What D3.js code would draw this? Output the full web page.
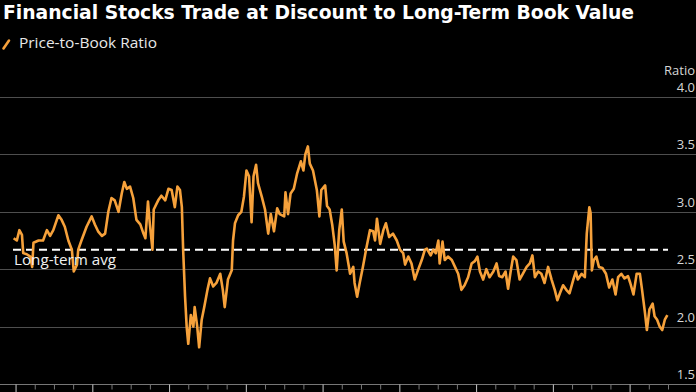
<!DOCTYPE html>
<html>
<head>
<meta charset="utf-8">
<script src="https://cdn.jsdelivr.net/npm/d3@7"></script>
<style>
  html, body { margin: 0; padding: 0; background: #000; }
  svg { display: block; }
  text { font-family: "Open Sans", "Noto Sans", sans-serif; }
</style>
</head>
<body>
<svg id="chart" width="696" height="392"></svg>
<script>
// ---------- data ----------
const titleText = "Financial Stocks Trade at Discount to Long-Term Book Value";
const seriesName = "Price-to-Book Ratio";
const unitLabel = "Ratio";
const avgLabel = "Long-term avg";
const longTermAvg = 2.67;
const yTicks = [1.5, 2.0, 2.5, 3.0, 3.5, 4.0];
const yTickLabels = ["1.5", "2.0", "2.5", "3.0", "3.5", "4.0"];
// months since start of first labelled year
const months = [
  -0.3, 0.2, 0.6, 1.0, 1.2, 1.75, 2.3, 2.6, 2.8, 3.6, 4.3, 4.9, 5.4, 5.9, 6.7, 7.2, 7.7, 8.25, 8.8, 9.1,
  9.6, 9.8, 10.3, 11.1, 11.9, 12.4, 12.9, 13.5, 14.0, 14.5, 15.0, 15.5, 16.1, 16.6, 17.0, 17.4, 17.9, 18.4, 18.9, 19.5,
  20.0, 20.3, 20.7, 21.0, 21.4, 21.6, 22.3, 22.8, 23.4, 23.9, 24.4, 24.9, 25.3, 25.7, 26.0, 26.2, 26.5, 26.75, 27.0, 27.4,
  27.8, 28.0, 28.4, 28.7, 29.1, 29.5, 30.0, 30.4, 30.9, 31.4, 32.0, 32.4, 32.7, 33.2, 33.8, 34.0, 34.3, 34.8, 35.3, 35.7,
  36.1, 36.5, 36.9, 37.2, 37.6, 37.9, 38.5, 39.0, 39.5, 39.9, 40.4, 40.9, 41.3, 42.0, 42.2, 42.6, 43.0, 43.5, 44.0, 44.6,
  45.0, 45.3, 45.7, 46.0, 46.5, 47.1, 47.5, 47.8, 48.4, 48.7, 49.1, 49.5, 49.9, 50.2, 50.6, 51.0, 51.3, 51.75, 52.3, 52.8,
  53.0, 53.4, 53.8, 54.3, 54.9, 55.4, 55.9, 56.2, 56.5, 57.0, 57.5, 57.9, 58.4, 59.0, 59.6, 60.1, 60.6, 60.9, 61.4, 61.9,
  62.4, 62.9, 63.5, 64.0, 64.3, 64.9, 65.3, 65.7, 66.1, 66.3, 66.75, 67.1, 67.6, 68.2, 68.7, 69.2, 69.7, 70.2, 70.75, 71.3,
  71.8, 72.2, 72.6, 73.1, 73.6, 74.1, 74.7, 75.2, 75.6, 76.1, 76.6, 77.0, 77.4, 77.8, 78.3, 78.8, 79.3, 79.9, 80.4, 80.8,
  81.2, 81.7, 82.2, 82.7, 83.25, 83.8, 84.3, 84.7, 85.1, 85.6, 86.1, 86.6, 87.2, 87.6, 87.9, 88.5, 89.0, 89.3, 89.7, 89.9,
  90.1, 90.4, 90.8, 91.2, 91.75, 92.3, 92.8, 93.3, 93.8, 94.2, 94.7, 95.2, 95.75, 96.1, 96.6, 97.1, 97.6, 97.9, 98.4, 98.7,
  99.1, 99.6, 99.9, 100.3, 100.7, 101.1, 101.5, 101.9
];
const ratio = [
  2.77, 2.75, 2.84, 2.80, 2.64, 2.63, 2.61, 2.52, 2.73, 2.75, 2.75, 2.84, 2.79, 2.84, 2.97, 2.93, 2.87, 2.75, 2.67, 2.48,
  2.54, 2.67, 2.75, 2.87, 2.96, 2.89, 2.83, 2.79, 2.81, 3.00, 3.12, 3.10, 3.00, 3.16, 3.26, 3.20, 3.22, 3.12, 2.93, 2.89,
  2.81, 2.77, 3.09, 2.89, 2.67, 3.02, 3.10, 3.14, 3.10, 3.20, 3.19, 3.04, 3.22, 3.19, 3.04, 2.67, 2.26, 2.00, 1.85, 2.10,
  2.00, 2.17, 2.00, 1.82, 2.06, 2.17, 2.32, 2.42, 2.35, 2.38, 2.46, 2.32, 2.17, 2.41, 2.49, 2.75, 2.90, 2.97, 3.00, 3.13,
  3.36, 3.31, 2.91, 3.31, 3.41, 3.25, 3.13, 3.02, 2.81, 2.98, 2.83, 3.03, 2.98, 2.96, 3.17, 2.98, 3.16, 3.20, 3.33, 3.44,
  3.36, 3.50, 3.57, 3.42, 3.36, 3.19, 2.96, 3.19, 3.23, 3.05, 3.02, 2.89, 2.71, 2.49, 2.84, 3.02, 2.74, 2.64, 2.46, 2.52,
  2.38, 2.26, 2.38, 2.52, 2.70, 2.84, 2.83, 2.75, 2.94, 2.72, 2.84, 2.90, 2.78, 2.81, 2.75, 2.67, 2.64, 2.54, 2.61, 2.55,
  2.41, 2.49, 2.58, 2.67, 2.68, 2.62, 2.67, 2.64, 2.75, 2.55, 2.74, 2.58, 2.61, 2.58, 2.52, 2.46, 2.32, 2.36, 2.43, 2.55,
  2.57, 2.61, 2.48, 2.41, 2.50, 2.43, 2.48, 2.55, 2.44, 2.43, 2.48, 2.33, 2.48, 2.61, 2.58, 2.41, 2.46, 2.52, 2.55, 2.62,
  2.43, 2.48, 2.46, 2.38, 2.52, 2.41, 2.32, 2.23, 2.29, 2.36, 2.32, 2.29, 2.41, 2.48, 2.41, 2.46, 2.43, 2.81, 3.04, 2.99,
  2.49, 2.58, 2.61, 2.52, 2.51, 2.46, 2.34, 2.41, 2.28, 2.43, 2.46, 2.42, 2.44, 2.38, 2.28, 2.46, 2.46, 2.34, 2.12, 1.97,
  2.15, 2.20, 2.09, 2.06, 2.00, 1.97, 2.06, 2.10
];
const monthDomain = [-0.4, 102];

// ---------- layout ----------
const W = 696, H = 392;
const svg = d3.select("#chart");
const x = d3.scaleLinear().domain(monthDomain).range([13, 668]);
const y = d3.scaleLinear().domain([1.5, 4.0]).range([384, 97]);
const orange = "#f6a13b";

// grid lines
svg.append("g").selectAll("line").data(yTicks.slice(1)).join("line")
  .attr("x1", 0).attr("x2", W)
  .attr("y1", d => Math.round(y(d)) + 0.5).attr("y2", d => Math.round(y(d)) + 0.5)
  .attr("stroke", "#4e4e4e").attr("stroke-width", 1);

// y labels (right, above gridline)
svg.append("g").selectAll("text").data(yTicks).join("text")
  .attr("x", 695).attr("y", d => y(d) - 5)
  .attr("text-anchor", "end").attr("font-size", 13).attr("fill", "#d6d6d6")
  .text((d, i) => yTickLabels[i]);
svg.append("text").attr("x", 695).attr("y", y(4.0) - 22)
  .attr("text-anchor", "end").attr("font-size", 13).attr("fill", "#d6d6d6")
  .text(unitLabel);

// x axis baseline and ticks
svg.append("line").attr("x1", 0).attr("x2", W)
  .attr("y1", Math.round(y(1.5)) + 0.5).attr("y2", Math.round(y(1.5)) + 0.5)
  .attr("stroke", "#777").attr("stroke-width", 1);
const minorTicks = d3.range(0, 103, 3).filter(m => m % 12 !== 0);
const majorTicks = d3.range(0, 103, 12);
const axisG = svg.append("g").attr("transform", `translate(0,${Math.round(y(1.5)) + 0.5})`);
axisG.call(d3.axisBottom(x).tickValues(minorTicks).tickSize(5).tickFormat(""))
  .call(g => g.select(".domain").remove())
  .call(g => g.selectAll("line").attr("stroke", "#777"));
const axisG2 = svg.append("g").attr("transform", `translate(0,${Math.round(y(1.5)) + 0.5})`);
axisG2.call(d3.axisBottom(x).tickValues(majorTicks).tickSize(9).tickFormat(""))
  .call(g => g.select(".domain").remove())
  .call(g => g.selectAll("line").attr("stroke", "#c8c8c8"));

// long-term average dashed line
svg.append("line")
  .attr("x1", x(monthDomain[0])).attr("x2", x(monthDomain[1]))
  .attr("y1", y(longTermAvg)).attr("y2", y(longTermAvg))
  .attr("stroke", "#fff").attr("stroke-width", 2).attr("stroke-dasharray", "8,5");

// series line
const pts = months.map((m, i) => [m, ratio[i]]);
svg.append("path").datum(pts)
  .attr("fill", "none").attr("stroke", orange).attr("stroke-width", 2.6)
  .attr("stroke-linejoin", "round")
  .attr("d", d3.line().x(d => x(d[0])).y(d => y(d[1])));

// avg label
svg.append("text").attr("x", 14).attr("y", y(longTermAvg) + 15)
  .attr("font-size", 14).attr("fill", "#f0f0f0")
  .attr("textLength", 102).attr("lengthAdjust", "spacingAndGlyphs")
  .text(avgLabel);

// title
svg.append("text").attr("x", 3).attr("y", 19)
  .style("font-family", "'DejaVu Sans Condensed', 'DejaVu Sans', sans-serif")
  .attr("font-size", 19.5).attr("font-weight", "bold").attr("fill", "#fff")
  .attr("textLength", 631).attr("lengthAdjust", "spacingAndGlyphs")
  .text(titleText);

// legend
svg.append("line").attr("x1", 3.5).attr("y1", 48.5).attr("x2", 9).attr("y2", 40.5)
  .attr("stroke", orange).attr("stroke-width", 2.6).attr("stroke-linecap", "round");
svg.append("text").attr("x", 19).attr("y", 48)
  .attr("font-size", 14).attr("fill", "#e8e8e8")
  .attr("textLength", 138).attr("lengthAdjust", "spacingAndGlyphs")
  .text(seriesName);
</script>
</body>
</html>
